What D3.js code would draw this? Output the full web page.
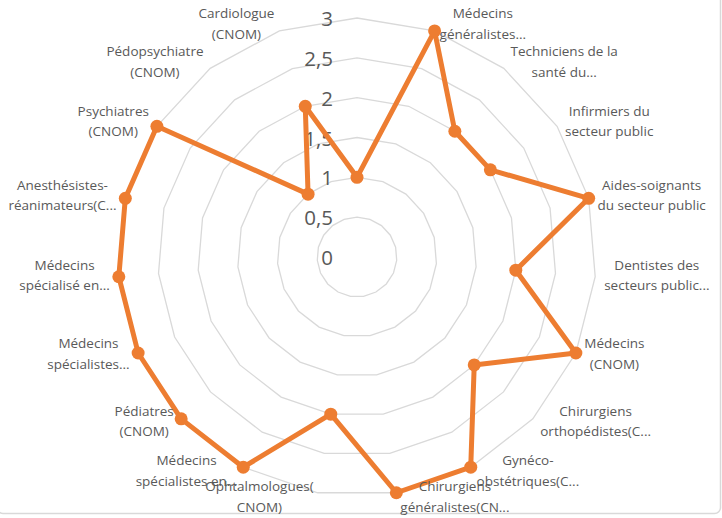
<!DOCTYPE html>
<html><head><meta charset="utf-8">
<script src="https://cdn.jsdelivr.net/npm/d3@7"></script>
<style>html,body{margin:0;padding:0;background:#fff;}svg{display:block;}</style>
</head><body>
<svg id="chart" width="722" height="518"></svg>
<script>
// Data
const categories = [
  "",
  "Médecins|généralistes...",
  "Techniciens de la|santé du...",
  "Infirmiers du|secteur public",
  "Aides-soignants|du secteur public",
  "Dentistes des|secteurs public...",
  "Médecins|(CNOM)",
  "Chirurgiens|orthopédistes(C...",
  "Gynéco-|obstétriques(C...",
  "Chirurgiens|généralistes(CN...",
  "Ophtalmologues(|CNOM)",
  "Médecins|spécialistes en...",
  "Pédiatres|(CNOM)",
  "Médecins|spécialistes...",
  "Médecins|spécialisé en...",
  "Anesthésistes-|réanimateurs(C...",
  "Psychiatres|(CNOM)",
  "Pédopsychiatre|(CNOM)",
  "Cardiologue|(CNOM)"
];
const values = [1, 3, 2, 2, 3, 2, 3, 2, 3, 3, 2, 3, 3, 3, 3, 3, 3, 1, 2];
const ticks = [0, 0.5, 1, 1.5, 2, 2.5, 3];
const tickLabels = ["0", "0,5", "1", "1,5", "2", "2,5", "3"];

const svg = d3.select("#chart");
const W = 722, H = 518;
const cx = 357, cy = 257;
const R = 239;
const n = categories.length;

// chart area border (only bottom visible)
svg.append("rect").attr("x", -3).attr("y", -20).attr("width", W + 1.5).attr("height", 533.5)
  .attr("rx", 6).attr("fill", "none").attr("stroke", "#d9d9d9").attr("stroke-width", 1.5);

const r = d3.scaleLinear().domain([0, 3]).range([0, R]);
const angle = d3.scaleLinear().domain([0, n]).range([0, 2 * Math.PI]);

const g = svg.append("g").attr("transform", `translate(${cx},${cy})`);

// rings
const ringLine = d3.lineRadial().curve(d3.curveLinearClosed);
ticks.filter(t => t > 0).forEach(t => {
  g.append("path")
    .attr("d", ringLine(d3.range(n).map(i => [angle(i), r(t)])))
    .attr("fill", "none").attr("stroke", "#d9d9d9").attr("stroke-width", 1.3);
});

// tick labels
g.selectAll("text.tick").data(ticks).join("text")
  .attr("class", "tick")
  .attr("x", -24).attr("y", d => -r(d))
  .attr("text-anchor", "end").attr("dominant-baseline", "central")
  .attr("font-family", "Open Sans, sans-serif").attr("font-size", 20.5)
  .attr("fill", "#595959")
  .text((d, i) => tickLabels[i]);

// series
const seriesLine = d3.lineRadial().curve(d3.curveLinearClosed)
  .angle((d, i) => angle(i)).radius(d => r(d));
g.append("path").datum(values)
  .attr("d", seriesLine)
  .attr("fill", "none").attr("stroke", "#ED7D31").attr("stroke-width", 5)
  .attr("stroke-linejoin", "round");

g.selectAll("circle.pt").data(values).join("circle")
  .attr("class", "pt")
  .attr("cx", (d, i) => r(d) * Math.sin(angle(i)))
  .attr("cy", (d, i) => -r(d) * Math.cos(angle(i)))
  .attr("r", 6.5).attr("fill", "#ED7D31");

// category labels
const LR = 245, lineH = 20.5;
categories.forEach((c, i) => {
  if (!c) return;
  const a = angle(i);
  const px = LR * Math.sin(a), py = -LR * Math.cos(a);
  const lines = c.split("|");
  const t = g.append("text")
    .attr("font-family", "Open Sans, sans-serif").attr("font-size", 13.5)
    .attr("fill", "#595959").attr("text-anchor", "middle");
  const spans = lines.map((l, k) => t.append("tspan").text(l)
    .attr("y", py - 2 + (k - (lines.length - 1) / 2) * lineH)
    .attr("dominant-baseline", "central"));
  const w = d3.max(spans, s => s.node().getComputedTextLength());
  let bx;
  if (Math.sin(a) > 0.01) bx = px + 3 + w / 2;
  else if (Math.sin(a) < -0.01) bx = px - 3 - w / 2;
  else bx = px;
  spans.forEach(s => s.attr("x", bx));
});
</script>
</body></html>
